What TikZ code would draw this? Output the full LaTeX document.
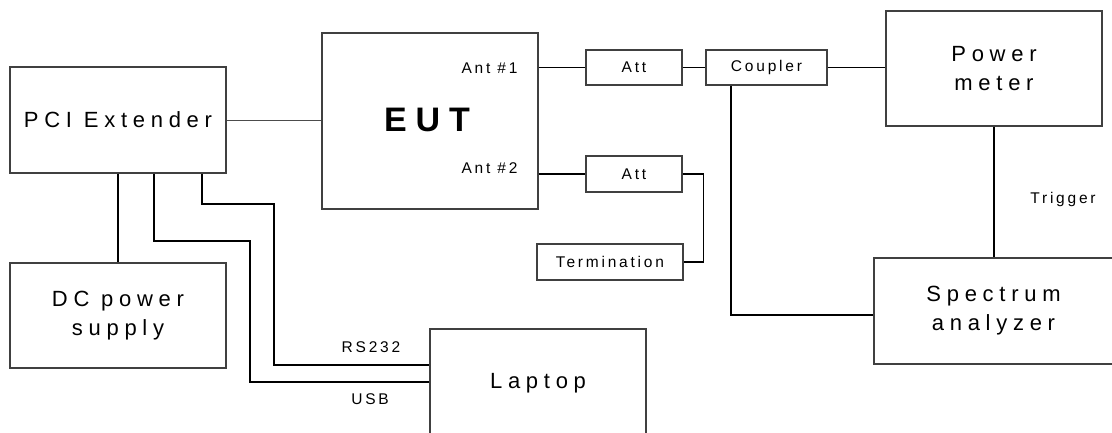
\documentclass[tikz,border=0pt]{standalone}
\usepackage{fontspec}
\setmainfont{Liberation Sans}
\newfontfamily\bigf[LetterSpace=26]{Liberation Sans}
\newfontfamily\smf[LetterSpace=18]{Liberation Sans}
\tikzset{
  box/.style={draw=black!75, line width=1.1bp, inner sep=0pt, align=center},
  wire/.style={line width=1.5bp, black},
  thinwire/.style={line width=1bp, black!70},
  big/.style={font=\bigf\fontsize{22bp}{29bp}\selectfont},
  small/.style={font=\smf\fontsize{15.5bp}{18bp}\selectfont},
}
\begin{document}
\begin{tikzpicture}[x=1bp,y=-1bp]
\useasboundingbox (0,0) rectangle (1112,432);
% boxes
\node[box,big,minimum width=216bp,minimum height=106bp] (pci) at (118,120) {PCI Extender};
\node[box,minimum width=216bp,minimum height=176bp] (eut) at (430,121) {};
\node[font=\bigf\bfseries\fontsize{34bp}{34bp}\selectfont] (eutl) at (427,120) {EUT};
\node[small,anchor=east] (ant1) at (521,68) {Ant \#1};
\node[small,anchor=east] (ant2) at (521,168) {Ant \#2};
\node[box,small,minimum width=96bp,minimum height=35bp] (att1) at (634,67.5) {Att};
\node[box,small,minimum width=96bp,minimum height=36bp] (att2) at (634,174) {Att};
\node[box,small,minimum width=121bp,minimum height=35bp] (cpl) at (766.5,67.5) {Coupler};
\node[box,big,minimum width=216bp,minimum height=115bp] (pm) at (994,68.5) {Power\\meter};
\node[box,small,minimum width=146bp,minimum height=36bp] (term) at (610,262) {Termination};
\node[box,big,minimum width=239bp,minimum height=106bp] (spec) at (993.5,311) {Spectrum\\analyzer};
\node[box,big,minimum width=216bp,minimum height=105bp] (dc) at (118,315.5) {DC power\\supply};
\node[box,big,minimum width=216bp,minimum height=108bp] (lap) at (538,383) {Laptop};
% labels
\node[small] (trig) at (1063,199) {Trigger};
\node[small] (rs) at (371,347) {RS232};
\node[small] (usb) at (370,399) {USB};
% connectors
\draw[thinwire] (pci.east) -- (pci.east -| eut.west);
\draw[wire] (att1.west -| eut.east) -- (att1.west);
\draw[wire] (att1.east) -- (cpl.west);
\draw[wire] (cpl.east) -- (cpl.east -| pm.west);
\draw[wire] (att2.west -| eut.east) -- (att2.west);
\draw[wire] (att2.east) -- ++(21,0) |- (term.east);
\draw[wire] ([xshift=-35.5bp]cpl.south) |- ([yshift=-4bp]spec.west);
\draw[wire] (pm.south) -- (pm.south |- spec.north);
\draw[wire] (pci.south) -- (dc.north);
\coordinate (usbbend) at (250,241);
\coordinate (rsbend) at (274,204);
\draw[wire] ([xshift=36bp]pci.south) |- (usbbend) |- ([yshift=1bp]lap.west);
\draw[wire] ([xshift=84bp]pci.south) |- (rsbend) |- ([yshift=18bp]lap.west);
\end{tikzpicture}
\end{document}
